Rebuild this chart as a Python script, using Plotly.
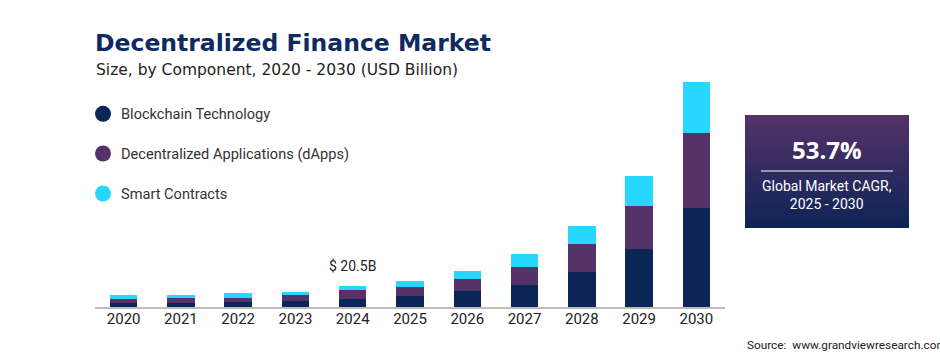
import plotly.graph_objects as go

years = ["2020", "2021", "2022", "2023", "2024", "2025", "2026", "2027", "2028", "2029", "2030"]
blockchain = [3.9, 4.2, 4.7, 5.7, 7.7, 10.8, 15.8, 21.7, 34.5, 56.8, 97.5]
dapps = [3.6, 4.9, 4.6, 5.9, 8.9, 8.9, 11.8, 17.7, 27.6, 42.4, 73.9]
smart = [3.9, 2.3, 4.2, 3.6, 3.9, 5.9, 7.9, 12.8, 17.7, 29.6, 50.2]
series_names = ["Blockchain Technology", "Decentralized Applications (dApps)", "Smart Contracts"]
colors = ["#0b2556", "#553368", "#27d7ff"]
highlight_year = "2024"
highlight_label = "$ 20.5B"
cagr_value = "53.7%"
cagr_label = "Global Market CAGR,<br>2025 - 2030"

W, H = 940, 361
ML, MR, MT, MB = 95, 215, 76, 54
PW = W - ML - MR
PH = H - MT - MB

fig = go.Figure()
for name, vals, col in zip(series_names, [blockchain, dapps, smart], colors):
    fig.add_trace(go.Bar(x=years, y=vals, name=name, marker=dict(color=col, line=dict(width=0)),
                         showlegend=False))

ymax = PH / 1.015


def px_x(p):
    return (p - ML) / PW


def px_y(p):
    return (H - MB - p) / PH


shapes = []
annotations = []

# Legend (custom)
leg_y = [113.8, 153.5, 193.5]
for name, col, yy in zip(series_names, colors, leg_y):
    shapes.append(dict(type="circle", xref="paper", yref="paper",
                       x0=px_x(95), x1=px_x(111), y0=px_y(yy + 8), y1=px_y(yy - 8),
                       fillcolor=col, line=dict(width=0)))
    annotations.append(dict(text=name, xref="paper", yref="paper", x=px_x(119), y=px_y(yy),
                            xanchor="left", yanchor="middle", showarrow=False,
                            font=dict(family="Roboto", size=14.6, color="#333333")))

# CAGR box with gradient stripes
bx0, bx1, by0, by1 = 745, 909, 115, 228
c_top = (84, 50, 105)
c_bot = (14, 36, 86)
n = 38
step = (by1 - by0) / n
for i in range(n):
    t = i / (n - 1)
    c = tuple(int(round(c_top[k] + (c_bot[k] - c_top[k]) * t)) for k in range(3))
    y_top = by0 + step * i
    y_bot = min(by1, by0 + step * (i + 1) + 1.5)
    shapes.append(dict(type="rect", xref="paper", yref="paper",
                       x0=px_x(bx0), x1=px_x(bx1),
                       y0=px_y(y_bot), y1=px_y(y_top),
                       fillcolor="rgb(%d,%d,%d)" % c, line=dict(width=0), layer="below"))
shapes.append(dict(type="line", xref="paper", yref="paper",
                   x0=px_x(761), x1=px_x(893), y0=px_y(171), y1=px_y(171),
                   line=dict(color="#9b95ad", width=2)))
annotations.append(dict(text="<b>%s</b>" % cagr_value, xref="paper", yref="paper",
                        x=px_x(827), y=px_y(149), xanchor="center", yanchor="middle", showarrow=False,
                        font=dict(family="Open Sans", size=24, color="white")))
annotations.append(dict(text=cagr_label, xref="paper", yref="paper",
                        x=px_x(827), y=px_y(195), xanchor="center", yanchor="middle", showarrow=False,
                        font=dict(family="Roboto", size=14, color="white")))

# Title and subtitle
annotations.append(dict(text="<b>Decentralized Finance Market</b>", xref="paper", yref="paper",
                        x=px_x(93), y=px_y(43), xanchor="left", yanchor="middle", showarrow=False,
                        font=dict(family="DejaVu Sans", size=23.5, color="#0e2a5e")))
annotations.append(dict(text="Size, by Component, 2020 - 2030 (USD Billion)", xref="paper", yref="paper",
                        x=px_x(94), y=px_y(70), xanchor="left", yanchor="middle", showarrow=False,
                        font=dict(family="DejaVu Sans", size=15.5, color="#222222")))

# Highlight label
idx = years.index(highlight_year)
total = blockchain[idx] + dapps[idx] + smart[idx]
annotations.append(dict(text=highlight_label, x=idx, y=total, xref="x", yref="y",
                        yanchor="middle", yshift=20, showarrow=False,
                        font=dict(family="Roboto", size=14, color="#222222")))

# Source
annotations.append(dict(text="Source:  www.grandviewresearch.com", xref="paper", yref="paper",
                        x=px_x(745), y=px_y(345), xanchor="left", yanchor="middle", showarrow=False,
                        font=dict(family="Roboto", size=11.8, color="#222222")))

fig.update_layout(
    width=W, height=H, barmode="stack", bargap=0.52,
    margin=dict(l=ML, r=MR, t=MT, b=MB, autoexpand=False),
    paper_bgcolor="white", plot_bgcolor="white",
    shapes=shapes, annotations=annotations,
    xaxis=dict(type="category", range=[-0.5, len(years) - 0.5], showline=True, linecolor="#bdbdbd",
               linewidth=2, showgrid=False, ticks="", ticklabelstandoff=-3,
               tickfont=dict(family="Roboto", size=15, color="#222222"), fixedrange=True),
    yaxis=dict(range=[0, ymax], visible=False, showgrid=False, fixedrange=True),
    font=dict(family="Roboto"),
)

fig.write_html("out.html", config={"displayModeBar": False},
               post_script="document.body.style.margin='0';document.body.style.overflow='hidden';")
